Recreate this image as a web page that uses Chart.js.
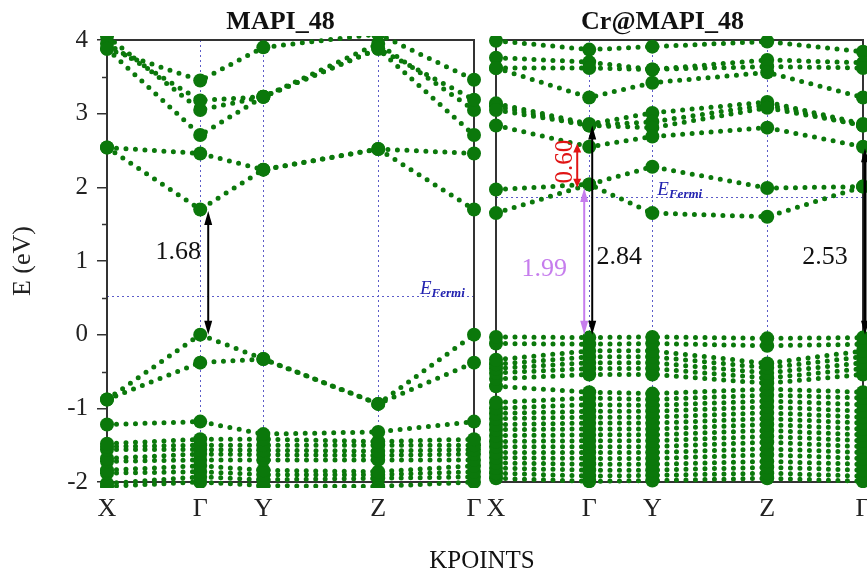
<!DOCTYPE html>
<html>
<head>
<meta charset="utf-8">
<script src="https://cdn.jsdelivr.net/npm/chart.js@4.4.1/dist/chart.umd.min.js"></script>
<style>
  html, body { margin: 0; padding: 0; background: #fff; }
  #wrap { position: relative; width: 867px; height: 570px; overflow: hidden; background: #fff; }
  #cA { position: absolute; left: 0; top: 0; }
  #cB { position: absolute; left: 476px; top: 0; }
  #xlab { position: absolute; left: 482px; top: 547px; transform: translateX(-50%);
          font: 25px/25px "Liberation Serif", serif; color: #111; white-space: nowrap; }
</style>
</head>
<body>
<div id="wrap">
  <canvas id="cA" width="486" height="570"></canvas>
  <canvas id="cB" width="420" height="570"></canvas>
  <div id="xlab">KPOINTS</div>
</div>
<script>
// k-path X - Γ - Y - Z - Γ (fractional path length)
const kPath = [0, 0.254, 0.426, 0.739, 1.0];
const kLabels = ['X', 'Γ', 'Y', 'Z', 'Γ'];
const eTicks = [-2, -1, 0, 1, 2, 3, 4];

// MAPI_48: band energies (eV) at X, Γ, Y, Z, Γ
const mapiConduction = [
  [3.88, 3.45, 3.90, 4.08, 3.46],
  [3.95, 3.18, 3.23, 3.88, 3.19],
  [4.05, 3.05, 3.23, 3.95, 3.05],
  [3.88, 2.71, 3.23, 3.88, 2.71],
  [2.54, 2.46, 2.24, 2.52, 2.46],
  [2.54, 1.70, 2.24, 2.52, 1.70]
];
const mapiValence = [
  [-0.88, 0.00, -0.33, -0.94, 0.00],
  [-0.88, -0.38, -0.33, -0.94, -0.38],
  [-1.22, -1.18, -1.35, -1.32, -1.18],
  [-1.48, -1.42, -1.42, -1.45, -1.42],
  [-1.52, -1.50, -1.50, -1.50, -1.50],
  [-1.56, -1.56, -1.57, -1.58, -1.56],
  [-1.68, -1.62, -1.63, -1.64, -1.62],
  [-1.72, -1.70, -1.70, -1.70, -1.70],
  [-1.84, -1.78, -1.84, -1.86, -1.78],
  [-1.88, -1.86, -1.90, -1.90, -1.86],
  [-2.02, -1.93, -1.97, -1.95, -1.93],
  [-2.06, -2.00, -2.05, -2.06, -2.00]
];
const mapiFermi = 0.52;
const mapiGaps = [1.68];

// Cr@MAPI_48: band energies (eV) at X, Γ, Y, Z, Γ
const crConduction = [
  [1.65, 2.04, 1.65, 1.60, 2.01],
  [1.97, 2.04, 2.28, 1.99, 2.01],
  [2.84, 2.55, 2.69, 2.81, 2.55],
  [3.05, 2.84, 2.81, 3.08, 2.84],
  [3.10, 2.84, 2.89, 3.12, 2.84],
  [3.14, 2.86, 3.01, 3.16, 2.86],
  [3.62, 3.22, 3.42, 3.56, 3.22],
  [3.62, 3.62, 3.60, 3.64, 3.62],
  [3.76, 3.70, 3.60, 3.73, 3.69],
  [3.99, 3.87, 3.91, 3.98, 3.84]
];
const crValence = [
  [-0.03, -0.04, -0.03, -0.05, -0.04],
  [-0.12, -0.13, -0.12, -0.15, -0.13],
  [-0.34, -0.22, -0.22, -0.39, -0.22],
  [-0.40, -0.30, -0.30, -0.45, -0.30],
  [-0.46, -0.38, -0.38, -0.52, -0.38],
  [-0.52, -0.46, -0.46, -0.59, -0.46],
  [-0.60, -0.54, -0.54, -0.66, -0.54],
  [-0.70, -0.78, -0.80, -0.74, -0.78],
  [-0.92, -0.86, -0.88, -0.82, -0.86],
  [-1.00, -0.95, -0.96, -0.90, -0.95],
  [-1.07, -1.04, -1.04, -0.98, -1.04],
  [-1.14, -1.12, -1.12, -1.06, -1.12],
  [-1.22, -1.20, -1.20, -1.14, -1.20],
  [-1.29, -1.28, -1.28, -1.22, -1.28],
  [-1.37, -1.36, -1.36, -1.30, -1.36],
  [-1.45, -1.44, -1.44, -1.38, -1.44],
  [-1.52, -1.52, -1.52, -1.46, -1.52],
  [-1.60, -1.60, -1.60, -1.55, -1.60],
  [-1.67, -1.68, -1.68, -1.63, -1.68],
  [-1.74, -1.76, -1.76, -1.72, -1.76],
  [-1.81, -1.84, -1.84, -1.80, -1.84],
  [-1.88, -1.92, -1.91, -1.88, -1.92],
  [-1.95, -1.99, -1.98, -1.95, -1.99]
];
const crFermi = 1.87;
// direct gap, Γ gap, CB splitting, Γ(end) gap
const crGaps = [1.99, 2.84, 0.60, 2.53];

const SERIF = '"Liberation Serif", "Times New Roman", serif';
const GREEN = '#0b780b';
const VIOLET = '#c67ded';
const RED = '#e01414';
Chart.defaults.font.family = SERIF;

function bandDatasets(bands) {
  return bands.map(vals => ({
    data: vals.map((e, i) => ({ x: kPath[i], y: e })),
    showLine: true,
    borderColor: GREEN,
    borderWidth: 5,
    borderDash: [0, 9.5],
    borderCapStyle: 'round',
    pointRadius: 7,
    pointBackgroundColor: GREEN,
    pointBorderWidth: 0,
    clip: { left: 10, right: 10, top: 4, bottom: 6 }
  }));
}

function vArrow(ctx, x, yBottom, yTop, color, lw, headLen, headHalf) {
  ctx.save();
  ctx.strokeStyle = color;
  ctx.fillStyle = color;
  ctx.lineWidth = lw;
  ctx.beginPath();
  ctx.moveTo(x, yBottom - headLen + 1);
  ctx.lineTo(x, yTop + headLen - 1);
  ctx.stroke();
  ctx.beginPath();
  ctx.moveTo(x, yTop);
  ctx.lineTo(x - headHalf, yTop + headLen);
  ctx.lineTo(x + headHalf, yTop + headLen);
  ctx.closePath();
  ctx.fill();
  ctx.beginPath();
  ctx.moveTo(x, yBottom);
  ctx.lineTo(x - headHalf, yBottom - headLen);
  ctx.lineTo(x + headHalf, yBottom - headLen);
  ctx.closePath();
  ctx.fill();
  ctx.restore();
}

function text(ctx, str, x, y, font, color, align) {
  ctx.save();
  ctx.font = font;
  ctx.fillStyle = color;
  ctx.textAlign = align || 'center';
  ctx.textBaseline = 'middle';
  ctx.fillText(str, x, y);
  ctx.restore();
}

function fermiLabel(ctx, x, yLine) {
  ctx.save();
  ctx.fillStyle = '#2323b0';
  ctx.textBaseline = 'alphabetic';
  ctx.textAlign = 'left';
  ctx.font = 'italic 19px ' + SERIF;
  ctx.fillText('E', x, yLine - 2);
  const w = ctx.measureText('E').width;
  ctx.font = 'italic bold 13px ' + SERIF;
  ctx.fillText('Fermi', x + w, yLine + 1);
  ctx.restore();
}

// guide lines, Fermi level, frame, titles and gap annotations
const panelDecor = {
  id: 'panelDecor',
  beforeDatasetsDraw(chart, args, opts) {
    const { ctx, chartArea: a, scales: { x, y } } = chart;
    ctx.save();
    ctx.strokeStyle = '#5c5cc8';
    ctx.lineWidth = 1;
    ctx.setLineDash([2, 3]);
    kPath.slice(1, -1).forEach(k => {
      const px = Math.round(x.getPixelForValue(k)) + 0.5;
      ctx.beginPath();
      ctx.moveTo(px, a.top);
      ctx.lineTo(px, a.bottom);
      ctx.stroke();
    });
    const fy = Math.round(y.getPixelForValue(opts.fermi)) + 0.5;
    ctx.beginPath();
    ctx.moveTo(a.left, fy);
    ctx.lineTo(a.right, fy);
    ctx.stroke();
    ctx.setLineDash([]);
    ctx.strokeStyle = '#333';
    ctx.lineWidth = 2;
    ctx.strokeRect(a.left, a.top, a.right - a.left, a.bottom - a.top);
    if (opts.minorTicks) {
      ctx.lineWidth = 1.5;
      for (let e = -1.5; e < 4; e += 1) {
        const py = Math.round(y.getPixelForValue(e)) + 0.5;
        ctx.beginPath();
        ctx.moveTo(a.left - 5, py);
        ctx.lineTo(a.left, py);
        ctx.stroke();
      }
    }
    ctx.restore();
  },
  afterDatasetsDraw(chart, args, opts) {
    const { ctx, chartArea: a, scales: { x, y } } = chart;
    text(ctx, opts.title, (a.left + a.right) / 2 + opts.titleShift, 22,
         'bold 26px ' + SERIF, '#111');
    const fy = y.getPixelForValue(opts.fermi);
    fermiLabel(ctx, opts.fermiLabelX(a, x), fy);
    opts.draw(ctx, a, x, y);
  }
};

function axes(showY) {
  return {
    x: {
      type: 'linear', min: 0, max: 1,
      afterBuildTicks: s => { s.ticks = kPath.map(v => ({ value: v })); },
      afterFit: s => { s.height = 88; s.paddingLeft = 0; s.paddingRight = 0; },
      grid: { display: false, drawTicks: false },
      border: { display: false },
      ticks: {
        autoSkip: false, maxRotation: 0, padding: 12, color: '#222',
        font: { family: SERIF, size: 26 },
        callback: (v, i) => kLabels[i]
      }
    },
    y: {
      display: showY,
      min: -2, max: 4,
      afterBuildTicks: s => { s.ticks = eTicks.map(v => ({ value: v })); },
      afterFit: s => { s.width = showY ? 107 : 0; s.paddingTop = 0; s.paddingBottom = 0; },
      ticks: { padding: 9, color: '#222', font: { family: SERIF, size: 25 },
               callback: v => String(v) },
      grid: { drawOnChartArea: false, tickLength: 10, color: '#333', lineWidth: 1.5 },
      border: { display: false },
      title: { display: true, text: 'E (eV)', color: '#222',
               font: { family: SERIF, size: 26 }, padding: { top: 8, bottom: 0 } }
    }
  };
}

new Chart(document.getElementById('cA'), {
  type: 'scatter',
  data: { datasets: bandDatasets(mapiConduction.concat(mapiValence)) },
  options: {
    responsive: false, animation: false, events: [],
    layout: { padding: { left: 0, right: 12, top: 40, bottom: 0 } },
    scales: axes(true),
    plugins: {
      legend: { display: false }, tooltip: { enabled: false },
      panelDecor: {
        title: 'MAPI_48', titleShift: -10, fermi: mapiFermi, minorTicks: true,
        fermiLabelX: (a) => a.right - 54,
        draw(ctx, a, x, y) {
          const gx = x.getPixelForValue(kPath[1]);
          vArrow(ctx, gx + 8, y.getPixelForValue(0), y.getPixelForValue(mapiGaps[0]),
                 '#000', 2, 14, 4);
          text(ctx, mapiGaps[0].toFixed(2), gx - 22,
               y.getPixelForValue(mapiGaps[0] / 2) - 21, '26px ' + SERIF, '#111');
        }
      }
    }
  },
  plugins: [panelDecor]
});

new Chart(document.getElementById('cB'), {
  type: 'scatter',
  data: { datasets: bandDatasets(crConduction.concat(crValence)) },
  options: {
    responsive: false, animation: false, events: [],
    layout: { padding: { left: 20, right: 33, top: 40, bottom: 0 } },
    scales: axes(false),
    plugins: {
      legend: { display: false }, tooltip: { enabled: false },
      panelDecor: {
        title: 'Cr@MAPI_48', titleShift: -17, fermi: crFermi, minorTicks: false,
        fermiLabelX: (a, x) => x.getPixelForValue(kPath[2]) + 5,
        draw(ctx, a, x, y) {
          const gx = x.getPixelForValue(kPath[1]);
          const ex = x.getPixelForValue(kPath[4]);
          const y0 = y.getPixelForValue(0);
          // direct gap to the Fermi-level states
          vArrow(ctx, gx - 5, y0, y.getPixelForValue(crGaps[0]), VIOLET, 2, 14, 4);
          text(ctx, crGaps[0].toFixed(2), gx - 45, y.getPixelForValue(crGaps[0] / 2) + 8,
               '26px ' + SERIF, VIOLET);
          // gap at Γ
          vArrow(ctx, gx + 3, y0, y.getPixelForValue(crGaps[1]), '#000', 2, 14, 4);
          text(ctx, crGaps[1].toFixed(2), gx + 30, y.getPixelForValue(crGaps[1] / 2) + 27,
               '26px ' + SERIF, '#111');
          // splitting between the two lowest conduction levels at Γ
          const mid = (crConduction[1][1] + crConduction[2][1]) / 2;
          vArrow(ctx, gx - 12, y.getPixelForValue(mid - crGaps[2] / 2),
                 y.getPixelForValue(mid + crGaps[2] / 2), RED, 2, 9, 4);
          ctx.save();
          ctx.translate(gx - 24, y.getPixelForValue(mid) - 4);
          ctx.rotate(-Math.PI / 2);
          text(ctx, crGaps[2].toFixed(2), 0, 0, '25px ' + SERIF, RED);
          ctx.restore();
          // gap at the closing Γ
          vArrow(ctx, ex + 2, y0, y.getPixelForValue(crGaps[3]), '#000', 3, 14, 4);
          text(ctx, crGaps[3].toFixed(2), ex - 38, y.getPixelForValue(crGaps[1] / 2) + 27,
               '26px ' + SERIF, '#111');
        }
      }
    }
  },
  plugins: [panelDecor]
});
</script>
</body>
</html>
